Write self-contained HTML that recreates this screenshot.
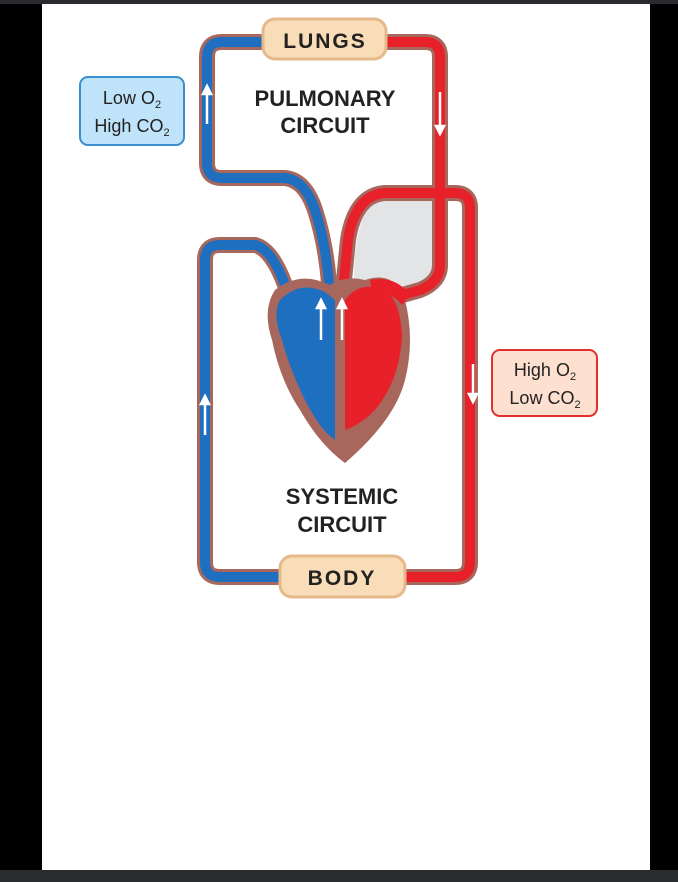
<!DOCTYPE html>
<html><head><style>
html,body{margin:0;padding:0;background:#000;}
svg{display:block}
text{font-family:"Liberation Sans",sans-serif;}
</style></head><body>
<svg width="678" height="882" viewBox="0 0 678 882" xmlns="http://www.w3.org/2000/svg">
<rect x="0" y="0" width="678" height="882" fill="#000"/>
<rect x="0" y="0" width="678" height="4" fill="#2a2b2e"/>
<rect x="0" y="870" width="678" height="12" fill="#2a2b2e"/>
<rect x="42" y="4" width="608" height="866" fill="#fff"/>

<!-- gray region -->
<path d="M370 200 L437 200 L437 270 Q430 290 400 295 L355 300 Q350 240 370 200 Z" fill="#e3e4e6"/>

<g fill="none" stroke-linecap="round" stroke-linejoin="round">
<!-- brown outlines -->
<g stroke="#a8675c" stroke-width="16">
<path d="M265 42 L222 42 Q207 42 207 57 L207 163 Q207 178 222 178 L285 178 Q305 180 315 210 Q328 250 330 300"/>
<path d="M386 42 L425 42 Q440 42 440 57 L440 265 Q440 282 420 290 L385 300"/>
<path d="M290 300 Q275 250 255 245 L220 245 Q205 245 205 260 L205 562 Q205 577 220 577 L282 577"/>
<path d="M405 577 L455 577 Q470 577 470 562 L470 208 Q470 193 455 193 L385 193 Q355 195 348 240 L342 300"/>
</g>
<g stroke-width="10">
<path stroke="#1f6fc0" d="M265 42 L222 42 Q207 42 207 57 L207 163 Q207 178 222 178 L285 178 Q305 180 315 210 Q328 250 330 300"/>
<path stroke="#e8202a" d="M386 42 L425 42 Q440 42 440 57 L440 265 Q440 282 420 290 L385 300"/>
<path stroke="#1f6fc0" d="M290 300 Q275 250 255 245 L220 245 Q205 245 205 260 L205 562 Q205 577 220 577 L282 577"/>
<path stroke="#e8202a" d="M405 577 L455 577 Q470 577 470 562 L470 208 Q470 193 455 193 L385 193 Q355 195 348 240 L342 300"/>
</g>
</g>

<!-- heart -->
<path d="M275 290 Q300 270 330 285 Q345 275 365 280 Q395 270 405 300 Q415 340 405 380 Q395 420 345 463 Q320 445 300 410 Q280 380 272 340 Q262 310 275 290 Z" fill="#a8675c"/>
<path d="M280 300 Q300 280 325 292 L335 300 L335 440 Q320 430 305 400 Q290 370 282 340 Q272 315 280 300 Z" fill="#1f6fc0"/>
<path d="M345 300 Q360 280 385 290 Q400 300 402 335 Q400 380 375 410 Q360 425 345 430 Z" fill="#e8202a"/>
<path d="M370 280 Q395 275 410 295 L402 305 Q390 290 372 292 Z" fill="#e8202a"/>

<!-- arrows -->
<g stroke="#fff" stroke-width="2.5" fill="#fff">
<line x1="207" y1="124" x2="207" y2="92"/><path d="M203 94 L207 86 L211 94 Z"/>
<line x1="440" y1="92" x2="440" y2="128"/><path d="M436 126 L440 134 L444 126 Z"/>
<line x1="205" y1="435" x2="205" y2="402"/><path d="M201 404 L205 396 L209 404 Z"/>
<line x1="473" y1="364" x2="473" y2="396"/><path d="M469 394 L473 402 L477 394 Z"/>
<line x1="321" y1="340" x2="321" y2="306"/><path d="M317 308 L321 300 L325 308 Z"/>
<line x1="342" y1="340" x2="342" y2="306"/><path d="M338 308 L342 300 L346 308 Z"/>
</g>

<!-- LUNGS box -->
<rect x="263" y="19" width="123" height="40" rx="12" fill="#f9dcb8" stroke="#e6b98a" stroke-width="3"/>
<text x="325" y="48" text-anchor="middle" font-size="21" font-weight="bold" letter-spacing="2" fill="#222">LUNGS</text>
<!-- BODY box -->
<rect x="280" y="556" width="125" height="41" rx="12" fill="#f9dcb8" stroke="#e6b98a" stroke-width="3"/>
<text x="342" y="585" text-anchor="middle" font-size="21" font-weight="bold" letter-spacing="2" fill="#222">BODY</text>

<text x="325" y="106" text-anchor="middle" font-size="22" font-weight="bold" fill="#222">PULMONARY</text>
<text x="325" y="133" text-anchor="middle" font-size="22" font-weight="bold" fill="#222">CIRCUIT</text>
<text x="342" y="504" text-anchor="middle" font-size="22" font-weight="bold" fill="#222">SYSTEMIC</text>
<text x="342" y="532" text-anchor="middle" font-size="22" font-weight="bold" fill="#222">CIRCUIT</text>

<!-- Low O2 box -->
<rect x="80" y="77" width="104" height="68" rx="8" fill="#bfe3f8" stroke="#3a8fd0" stroke-width="2"/>
<text x="132" y="104" text-anchor="middle" font-size="18" fill="#222">Low O<tspan font-size="11" dy="4">2</tspan></text>
<text x="132" y="132" text-anchor="middle" font-size="18" fill="#222">High CO<tspan font-size="11" dy="4">2</tspan></text>
<!-- High O2 box -->
<rect x="492" y="350" width="105" height="66" rx="8" fill="#fde0d0" stroke="#e03030" stroke-width="2"/>
<text x="545" y="376" text-anchor="middle" font-size="18" fill="#222">High O<tspan font-size="11" dy="4">2</tspan></text>
<text x="545" y="404" text-anchor="middle" font-size="18" fill="#222">Low CO<tspan font-size="11" dy="4">2</tspan></text>
</svg>
</body></html>
